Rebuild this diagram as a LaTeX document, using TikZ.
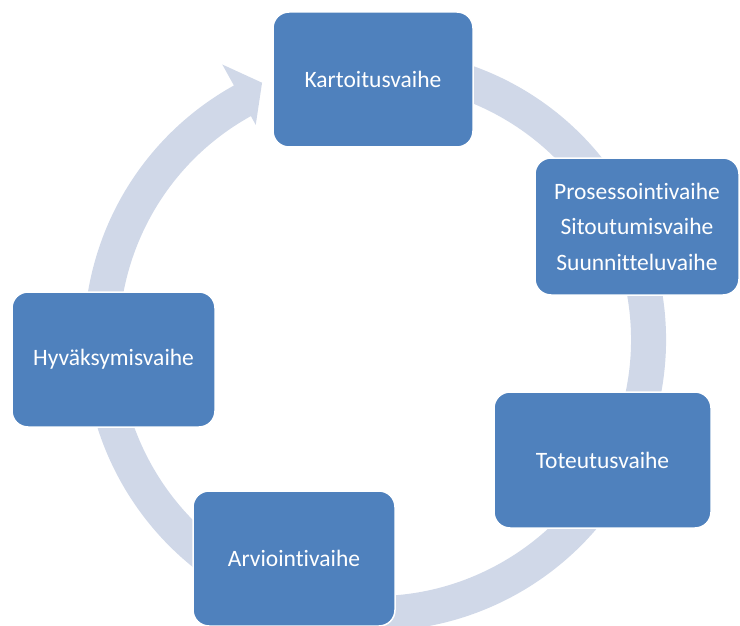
\documentclass[tikz,border=0pt]{standalone}
\usepackage{fontspec}
\setmainfont{Carlito}[Ligatures=NoCommon]
\definecolor{boxblue}{HTML}{4F81BD}
\definecolor{ringblue}{HTML}{D0D8E8}
\tikzset{
  phase/.style={draw=white, line width=1.5pt, fill=boxblue, rounded corners=16pt,
    text=white, font=\fontsize{23.5}{35.5}\selectfont, align=center,
    inner sep=2pt, outer sep=0pt},
  ringarrow/.style={fill=ringblue, draw=none}
}
\begin{document}
\begin{tikzpicture}[x=1pt,y=-1pt]
\useasboundingbox (0,0) rectangle (740,626);
% ring arrow
\fill[ringarrow, shift={(375,340)}]
  (-75:291) arc[start angle=-75, end angle=241, radius=291]
  -- (241:315) -- (246.3:281) -- (241:246) -- (241:256)
  arc[start angle=241, end angle=-75, radius=256] -- cycle;
% boxes
\node[phase, minimum width=200pt, minimum height=135pt] (k) at (373,79.5) {Kartoitusvaihe};
\node[phase, minimum width=204pt, minimum height=137pt] (p) at (637,226.5) {Prosessointivaihe\\Sitoutumisvaihe\\Suunnitteluvaihe};
\node[phase, minimum width=217pt, minimum height=136pt] (t) at (602.5,460) {Toteutusvaihe};
\node[phase, minimum width=202pt, minimum height=135pt] (a) at (294,558.5) {Arviointivaihe};
\node[phase, minimum width=203pt, minimum height=135pt] (h) at (113.5,359.5) {Hyväksymisvaihe};
\end{tikzpicture}
\end{document}
